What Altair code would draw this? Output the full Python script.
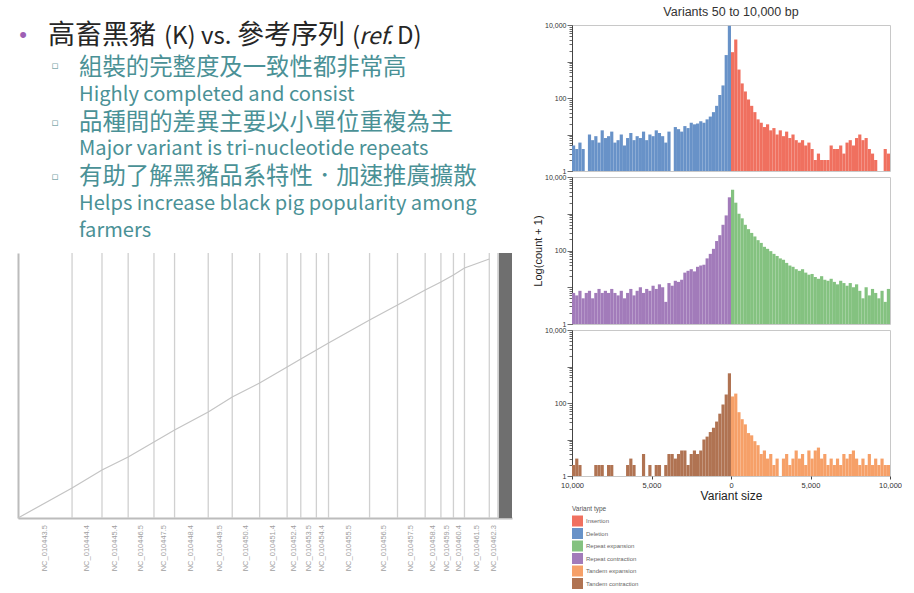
import altair as alt
import pandas as pd

# ---------------- slide text ----------------
HEAD_SEGMENTS = ["高畜黑豬", "(K) vs.", "參考序列", "(", "ref.", "D)"]
SUB_LINES = [
    "組裝的完整度及一致性都非常高",
    "Highly completed and consist",
    "品種間的差異主要以小單位重複為主",
    "Major variant is tri-nucleotide repeats",
    "有助了解黑豬品系特性．加速推廣擴散",
    "Helps increase black pig popularity among",
    "farmers",
]
HIST_TITLE = "Variants 50 to 10,000 bp"

# ---------------- dot plot data (Mb) ----------------
CHROM_NAMES = ["NC_010443.5", "NC_010444.4", "NC_010445.4", "NC_010446.5", "NC_010447.5",
               "NC_010448.4", "NC_010449.5", "NC_010450.4", "NC_010451.4", "NC_010452.4",
               "NC_010453.5", "NC_010454.4", "NC_010455.5", "NC_010456.5", "NC_010457.5",
               "NC_010458.4", "NC_010459.5", "NC_010460.4", "NC_010461.5", "NC_010462.3"]
REF_END_MB = [274.33, 426.27, 559.12, 690.03, 794.56, 965.40, 1087.24, 1226.21, 1365.72, 1435.08,
              1514.25, 1575.85, 1784.18, 1925.94, 2066.35, 2146.29, 2209.78, 2265.76, 2391.70, 2435.25]
QRY_END_MB = [283, 453, 575, 717, 830, 1000, 1142, 1274, 1425, 1500,
              1585, 1650, 1868, 2009, 2151, 2226, 2292, 2358, 2443]
UNPLACED_MB = [2440, 2507]
REF_TOTAL = 2507
QRY_TOTAL = 2500

# ---------------- histogram data (counts per 200 bp bin) ----------------
BIN_W = 200
DELETION = [4, 3, 5, 3, 0, 9, 6, 8, 5, 12, 7, 8, 11, 5, 6, 9, 4, 7, 10, 6,
            8, 7, 11, 6, 9, 8, 12, 10, 8, 5, 11, 0, 15, 13, 11, 16, 14, 20, 18, 19,
            22, 20, 25, 30, 40, 60, 120, 220, 1500, 9500]
INSERTION = [1800, 4000, 600, 250, 150, 90, 60, 40, 25, 20, 15, 18, 12, 14, 9, 12, 8, 11, 7, 9,
             6, 5, 6, 4, 5, 3, 1, 2, 1, 1, 1, 4, 3, 3, 4, 2, 5, 6, 4, 7,
             9, 6, 7, 3, 2, 1, 0, 0, 3, 2]
REP_CONTRACTION = [6, 5, 7, 4, 6, 7, 4, 6, 8, 6, 7, 6, 8, 6, 5, 7, 4, 6, 8, 5,
                   7, 9, 6, 8, 7, 10, 8, 11, 9, 3, 12, 10, 14, 13, 15, 24, 27, 30, 26, 35,
                   38, 40, 60, 80, 110, 180, 260, 500, 900, 2800]
REP_EXPANSION = [4500, 2000, 1000, 750, 500, 380, 300, 240, 190, 160, 125, 110, 95, 80, 70, 60, 55, 45, 38, 35,
                 30, 27, 30, 24, 21, 22, 18, 16, 19, 15, 14, 16, 13, 11, 14, 12, 10, 12, 9, 11,
                 7, 4, 9, 5, 8, 6, 4, 7, 3, 8]
TAN_CONTRACTION = [1, 2, 1, 0, 0, 0, 0, 1, 1, 1, 0, 1, 1, 0, 0, 0, 0, 1, 2, 1,
                   0, 0, 3, 0, 1, 0, 1, 1, 0, 1, 3, 3, 2, 3, 4, 4, 1, 3, 4, 3,
                   4, 9, 11, 15, 20, 30, 50, 90, 170, 650]
TAN_EXPANSION = [150, 180, 55, 35, 25, 14, 12, 8, 6, 3, 4, 2, 3, 1, 2, 0, 2, 3, 1, 2,
                 4, 2, 3, 1, 4, 2, 4, 5, 2, 3, 1, 2, 1, 2, 1, 3, 2, 3, 4, 2,
                 1, 2, 1, 3, 1, 2, 1, 2, 1, 1]

TYPES = ["Insertion", "Deletion", "Repeat expansion", "Repeat contraction",
         "Tandem expansion", "Tandem contraction"]
COLORS = ["#F0705F", "#6892C8", "#84C280", "#A27BBA", "#F6A068", "#B07352"]

X_TICKS = [-10000, -5000, 0, 5000, 10000]
LOG_TICKS = [m * 10 ** e for e in range(4) for m in range(1, 10)] + [10000]

CJK = "Noto Sans CJK TC"
SANS = "Liberation Sans"
TEAL = "#4A9196"
NO_FRAME = alt.ViewBackground(stroke=None)

# ---------------- left: slide text ----------------
def txt(s, x, y, size, color, font=CJK, style="normal", align="left", baseline="alphabetic"):
    return alt.Chart(pd.DataFrame({"t": [s]})).mark_text(
        align=align, baseline=baseline, font=font, fontSize=size, color=color, fontStyle=style
    ).encode(text="t:N", x=alt.value(x), y=alt.value(y))

HEAD_X = [30, 146, 219, 334, 341, 379]
HEAD_SIZE = [27, 24, 27, 24, 23, 24]
HEAD_STYLE = ["normal", "normal", "normal", "normal", "italic", "normal"]
layers = [txt("•", 5, 35, 22, "#9E5FB4", font=SANS, align="center", baseline="middle")]
for s, xx, fs, st in zip(HEAD_SEGMENTS, HEAD_X, HEAD_SIZE, HEAD_STYLE):
    layers.append(txt(s, xx, 44, fs, "#262626", style=st))
for yy in [66, 123, 177]:
    layers.append(txt("▫", 37, yy, 11, "#7FA9AC", font="DejaVu Sans", align="center", baseline="middle"))
SUB_Y = [75, 101, 130, 155, 184, 210, 237]
SUB_SIZE = [23.4, 20.1, 23.4, 20.1, 23.4, 20.1, 20.1]
for s, yy, fs in zip(SUB_LINES, SUB_Y, SUB_SIZE):
    layers.append(txt(s, 61, yy, fs, TEAL))
text_view = alt.layer(*layers).properties(width=494, height=253, view=NO_FRAME)

# ---------------- left: dot plot ----------------
starts = [0] + REF_END_MB[:-1]
chrom_df = pd.DataFrame({
    "name": CHROM_NAMES,
    "start": starts,
    "end": REF_END_MB,
    "mid": [(a + b) / 2 for a, b in zip(starts, REF_END_MB)],
})
aln_df = pd.DataFrame({"ref": [0] + REF_END_MB[:len(QRY_END_MB)], "qry": [0] + QRY_END_MB})
unpl_df = pd.DataFrame({"start": [UNPLACED_MB[0]], "end": [UNPLACED_MB[1]]})

xs = alt.Scale(domain=[0, REF_TOTAL], nice=False, zero=False)
ys = alt.Scale(domain=[0, QRY_TOTAL], nice=False, zero=False)
dp_axis = alt.Axis(labels=False, ticks=False, grid=False, domainColor="#bcbcbc", domainWidth=2)
DP_H = 265

rules = alt.Chart(chrom_df).mark_rule(color="#d0d0d0", strokeWidth=1.3).encode(
    x=alt.X("end:Q", scale=xs, axis=dp_axis, title=None),
    y=alt.value(0), y2=alt.value(DP_H))
unpl = alt.Chart(unpl_df).mark_rect(color="#6f6f6f").encode(
    x=alt.X("start:Q", scale=xs, axis=dp_axis, title=None), x2="end:Q",
    y=alt.value(0), y2=alt.value(DP_H))
aln = alt.Chart(aln_df).mark_line(color="#c4c4c4", strokeWidth=1.2).encode(
    x=alt.X("ref:Q", scale=xs, axis=dp_axis, title=None),
    y=alt.Y("qry:Q", scale=ys, axis=dp_axis, title=None))
labels = alt.Chart(chrom_df).mark_text(
    angle=270, align="right", baseline="middle", fontSize=7.5, color="#a0a0a0", font=SANS
).encode(x=alt.X("mid:Q", scale=xs), y=alt.value(DP_H + 7), text="name:N")
dot_view = alt.layer(rules, unpl, aln, labels).properties(width=494, height=DP_H, view=NO_FRAME)

# ---------------- right: histograms ----------------
def panel_df(neg, pos, neg_type, pos_type):
    rows = []
    for i, c in enumerate(neg):
        s = -10000 + i * BIN_W
        rows.append({"start": s, "end": s + BIN_W, "v": c + 1, "type": neg_type})
    for i, c in enumerate(pos):
        s = i * BIN_W
        rows.append({"start": s, "end": s + BIN_W, "v": c + 1, "type": pos_type})
    return pd.DataFrame(rows)

legend = alt.Legend(title="Variant type", orient="none", legendX=554, legendY=506,
                    direction="vertical", symbolType="square", symbolSize=121,
                    symbolStrokeWidth=0, titleFontSize=6.5, titleFontWeight="normal",
                    titleColor="#555555", titleFont=SANS, labelFont=SANS, labelFontSize=6,
                    labelColor="#666666", rowPadding=1.5, titlePadding=3, labelOffset=3,
                    padding=0)

MAJOR = "datum.value == 1 || datum.value == 10 || datum.value == 100 || datum.value == 1000 || datum.value == 10000"

def panel(df, h, show_x, ytitle):
    y_axis = alt.Axis(values=LOG_TICKS,
                      labelExpr="datum.value == 1 || datum.value == 100 || datum.value == 10000 ? format(datum.value, ',') : ''",
                      tickSize={"condition": {"test": MAJOR, "value": 5}, "value": 3},
                      labelFontSize=7, labelFont=SANS, labelColor="#333333", labelPadding=1,
                      labelOverlap=False, labelFlush=False, grid=False,
                      domainColor="#444444", tickColor="#444444", tickWidth=0.8,
                      titleFont=SANS, titleFontSize=11, titleFontWeight="normal",
                      titleColor="#222222", titlePadding=1)
    if show_x:
        x_enc = alt.X("start:Q", scale=alt.Scale(domain=[-10000, 10000], nice=False, zero=False),
                      title="Variant size",
                      axis=alt.Axis(values=X_TICKS, labelExpr="format(abs(datum.value), ',')",
                                    labelFontSize=7.5, labelFont=SANS, labelColor="#333333",
                                    labelFlush=False, tickSize=3, tickColor="#444444",
                                    domain=False, grid=False, labelPadding=2,
                                    titleFont=SANS, titleFontSize=12, titleFontWeight="normal",
                                    titleColor="#222222", titlePadding=2))
    else:
        x_enc = alt.X("start:Q", scale=alt.Scale(domain=[-10000, 10000], nice=False, zero=False),
                      axis=None)
    return alt.Chart(df).mark_bar(strokeWidth=0).encode(
        x=x_enc, x2="end:Q",
        y=alt.Y("v:Q", scale=alt.Scale(type="log", domain=[1, 10000], nice=False),
                axis=y_axis, title=ytitle),
        y2=alt.datum(1),
        color=alt.Color("type:N", scale=alt.Scale(domain=TYPES, range=COLORS), legend=legend),
    ).properties(width=318, height=h, view=alt.ViewBackground(stroke="#c8c8c8"))

p1 = panel(panel_df(DELETION, INSERTION, "Deletion", "Insertion"), 146, False, None)
p2 = panel(panel_df(REP_CONTRACTION, REP_EXPANSION, "Repeat contraction", "Repeat expansion"),
           147, False, "Log(count + 1)")
p3 = panel(panel_df(TAN_CONTRACTION, TAN_EXPANSION, "Tandem contraction", "Tandem expansion"),
           146, True, None)

title_view = alt.Chart(pd.DataFrame({"t": [HIST_TITLE]})).mark_text(
    font=SANS, fontSize=12.5, color="#333333", baseline="middle", align="center"
).encode(text="t:N", x=alt.value(159), y=alt.value(12)).properties(width=318, height=19, view=NO_FRAME)

left_col = alt.vconcat(text_view, dot_view, spacing=0, bounds="flush")
right_col = alt.vconcat(title_view, p1, p2, p3, spacing=6, bounds="flush")

chart = alt.hconcat(left_col, right_col, spacing=20).properties(
    padding={"left": 15, "top": 0, "right": 0, "bottom": 0}
).configure_view(stroke=None)

chart.save("out.html", embed_options={"renderer": "svg", "actions": False})
